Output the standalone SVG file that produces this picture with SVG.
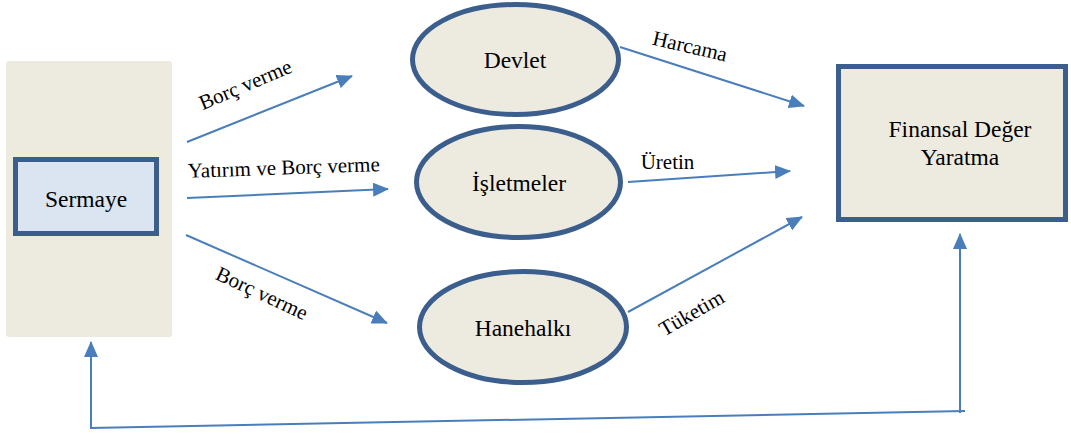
<svg xmlns="http://www.w3.org/2000/svg" width="1071" height="435" viewBox="0 0 1071 435">
<style>
.node{fill:#EDEBE0;stroke:#3B5E8C;stroke-width:5}
text{font-family:'Liberation Serif','DejaVu Serif',serif;fill:#000;text-anchor:middle}
.t{font-size:23.5px}
.l{font-size:21px}
.c{stroke:#4A7EBB;stroke-width:2;fill:none}
</style>
<defs>
<marker id="ah" markerUnits="userSpaceOnUse" markerWidth="16" markerHeight="14" refX="15" refY="7" orient="auto">
<path d="M0,0 L16,7 L0,14 Z" fill="#4A7EBB"/>
</marker>
</defs>
<rect x="6" y="61" width="166" height="276" rx="3" fill="#EDEBE0"/>
<g id="sermaye">
<rect x="15.5" y="159.5" width="141" height="74" fill="#DBE4F1" stroke="#3B5E8C" stroke-width="5"/>
<text class="t" x="86" y="207" font-family="Liberation Serif, serif">Sermaye</text>
</g>
<g id="devlet">
<ellipse class="node" cx="515.5" cy="59.5" rx="103" ry="55"/>
<text class="t" x="515" y="68">Devlet</text>
</g>
<g id="isletmeler">
<ellipse class="node" cx="518.5" cy="182" rx="102" ry="55.5"/>
<text class="t" x="519" y="191">İşletmeler</text>
</g>
<g id="hanehalki">
<ellipse class="node" cx="523" cy="327" rx="103.5" ry="55.5"/>
<text class="t" x="523" y="336">Hanehalkı</text>
</g>
<g id="finansal">
<rect x="838.5" y="66.5" width="227" height="153" fill="#EDEBE0" stroke="#3B5E8C" stroke-width="5"/>
<text class="t" x="960" y="137">Finansal Değer</text>
<text class="t" x="960" y="165">Yaratma</text>
</g>
<g id="connectors">
<line class="c" x1="187" y1="142" x2="352" y2="76" marker-end="url(#ah)"/>
<line class="c" x1="187" y1="198" x2="388" y2="189" marker-end="url(#ah)"/>
<line class="c" x1="186" y1="235" x2="387" y2="323" marker-end="url(#ah)"/>
<line class="c" x1="620" y1="47" x2="804" y2="106" marker-end="url(#ah)"/>
<line class="c" x1="628" y1="182" x2="790" y2="171" marker-end="url(#ah)"/>
<line class="c" x1="628" y1="312" x2="802" y2="217" marker-end="url(#ah)"/>
<line class="c" x1="965" y1="411" x2="90" y2="428"/>
<line class="c" x1="960" y1="413" x2="960" y2="234" marker-end="url(#ah)"/>
<line class="c" x1="91" y1="428" x2="91" y2="342" marker-end="url(#ah)"/>
<text class="l" x="248" y="91" transform="rotate(-23 248 91)">Borç verme</text>
<text class="l" x="284" y="174.5" transform="rotate(-2 284 174.5)">Yatırım ve Borç verme</text>
<text class="l" x="259" y="299.5" transform="rotate(25 259 299.5)">Borç verme</text>
<text class="l" x="688.5" y="53" transform="rotate(13 688.5 53)">Harcama</text>
<text class="l" x="667.5" y="169">Üretin</text>
<text class="l" x="695" y="319" transform="rotate(-30 695 319)">Tüketim</text>
</g>
</svg>
